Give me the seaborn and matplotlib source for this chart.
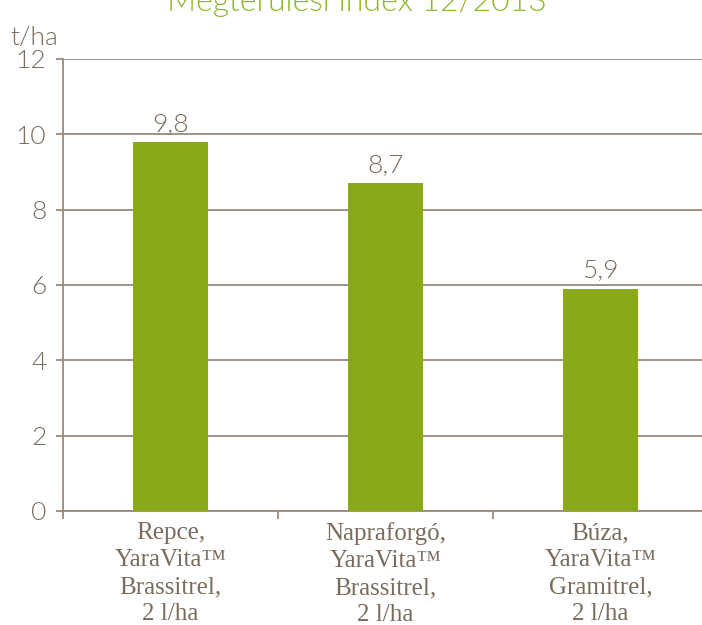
import matplotlib
matplotlib.use("Agg")
import pandas as pd
import seaborn as sns
import matplotlib.pyplot as plt

categories = ["Repce,\nYaraVita™\nBrassitrel,\n2 l/ha",
              "Napraforgó,\nYaraVita™\nBrassitrel,\n2 l/ha",
              "Búza,\nYaraVita™\nGramitrel,\n2 l/ha"]
values = [9.8, 8.7, 5.9]
yticks = [0, 2, 4, 6, 8, 10, 12]
title = "Megtérülési index 12/2013"
unit = "t/ha"

GREEN = "#8aa917"
TEXT = "#7a6b5c"
LINE = "#968a7c"

sns.set_theme(style="white")
plt.rcParams["font.family"] = ["Lato", "DejaVu Sans"]

df = pd.DataFrame({"cat": categories, "val": values})

fig = plt.figure(figsize=(7.02, 6.25), dpi=100)
ax = fig.add_axes([63 / 702, 114 / 625, 645 / 702, 452 / 625])

sns.barplot(data=df, x="cat", y="val", color=GREEN, width=0.353,
            saturation=1, linewidth=0, edgecolor="none", ax=ax, zorder=3)

ax.set_ylim(0, 12)
ax.set_xlim(-0.5, 2.5)
ax.set_yticks(yticks)
ax.set_yticklabels([str(t) for t in yticks], fontsize=19, color=TEXT,
                   fontweight=300)
ax.yaxis.grid(True, color=LINE, linewidth=1.3, zorder=0)
ax.set_axisbelow(True)

ax.set_xticks(range(len(categories)))
ax.set_xticklabels(categories, family=["Liberation Serif"], fontsize=18,
                   color=TEXT, linespacing=1.3)
ax.set_xticks([-0.5, 0.5, 1.5], minor=True)
ax.tick_params(axis="x", which="major", length=0, pad=8)
ax.tick_params(axis="x", which="minor", length=6, width=1.3, color=LINE,
               direction="out", bottom=True)
ax.tick_params(axis="y", length=5, width=1.3, color=LINE, direction="out",
               left=True, pad=7)

for s in ["top", "right"]:
    ax.spines[s].set_visible(False)
for s in ["left", "bottom"]:
    ax.spines[s].set_color(LINE)
    ax.spines[s].set_linewidth(1.3)

ax.set_xlabel("")
ax.set_ylabel("")

labels = [f"{v:.1f}".replace(".", ",") for v in values]
ax.bar_label(ax.containers[0], labels=labels, padding=4, fontsize=19,
             color=TEXT, fontweight=300)

fig.text(10 / 702, 1 - 45 / 625, unit, fontsize=19, color=TEXT,
         fontweight=300, ha="left", va="baseline")
fig.text(357 / 702, 1 - 11 / 625, title, fontsize=23, color="#8cb82a",
         fontweight=300, ha="center", va="baseline")

fig.savefig("out.png", dpi=100)
